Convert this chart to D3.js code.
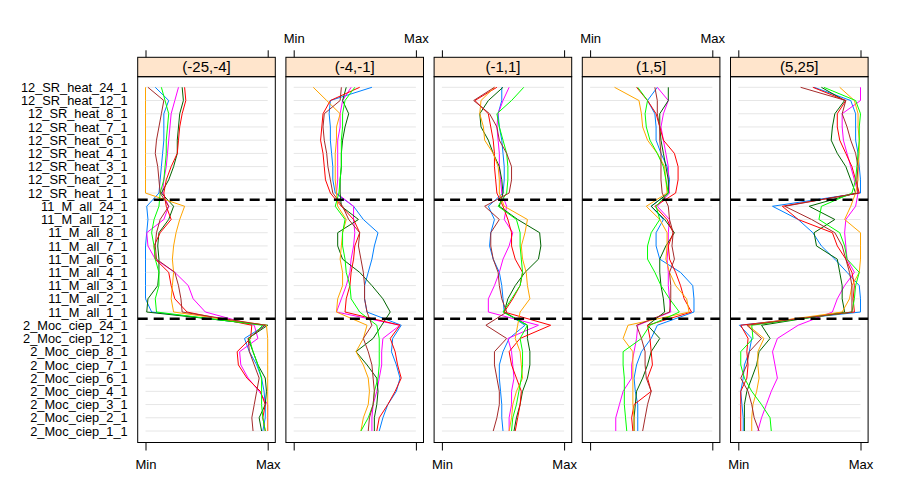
<!DOCTYPE html>
<html><head><meta charset="utf-8">
<script src="https://cdn.jsdelivr.net/npm/d3@7"></script>
<style>body{margin:0;background:#fff}svg{display:block}text{font-family:"Liberation Sans",Arial,sans-serif;fill:#000}</style>
</head><body>
<svg id="c" width="900" height="500"></svg>
<script>
// Variables (rows) from top to bottom
const rows = ["12_SR_heat_24_1","12_SR_heat_12_1","12_SR_heat_8_1","12_SR_heat_7_1","12_SR_heat_6_1","12_SR_heat_4_1","12_SR_heat_3_1","12_SR_heat_2_1","12_SR_heat_1_1",
"11_M_all_24_1","11_M_all_12_1","11_M_all_8_1","11_M_all_7_1","11_M_all_6_1","11_M_all_4_1","11_M_all_3_1","11_M_all_2_1","11_M_all_1_1",
"2_Moc_ciep_24_1","2_Moc_ciep_12_1","2_Moc_ciep_8_1","2_Moc_ciep_7_1","2_Moc_ciep_6_1","2_Moc_ciep_4_1","2_Moc_ciep_3_1","2_Moc_ciep_2_1","2_Moc_ciep_1_1"];
const panelTitles = ["(-25,-4]","(-4,-1]","(-1,1]","(1,5]","(5,25]"];
const seriesColors = ["#0080ff","#ff00ff","#006400","#ff0000","#ffa500","#00ff00","#a52a2a"];
const scaleTicks = ["Min","Max"];
const groupBreaks = [8, 17]; // dashed line after these row indices

// values: 0 = Min, 100 = Max ; order of series: blue, magenta, darkgreen, red, orange, green, brown
const panel1 = [
 [8,19,15,15,15,14,13,12,11, 1,2,1,0,0,0,0,0,5, 98,81,85,91,95,97,98,98,96],
 [27,24,21,20,19,18,17,15,14, 19,15,1,2,8,24,35,39,49, 89,92,77,78,84,93,100,100,100],
 [30,31,28,27,26,26,23,19,13, 23,19,11,10,11,11,10,2,1, 100,84,88,92,98,99,98,93,95],
 [32,33,30,28,27,26,21,17,15, 17,21,12,7,8,19,21,24,34, 87,86,75,76,83,94,98,96,98],
 [0,0,0,0,0,0,0,0,0, 32,28,25,23,22,23,22,21,23, 99,100,100,100,100,100,100,100,100],
 [13,16,19,18,17,17,16,15,12, 11,7,5,7,8,11,11,8,9, 96,85,88,92,95,95,95,96,98],
 [2,15,13,11,9,8,10,11,12, 19,12,9,8,9,24,27,29,30, 98,84,85,89,93,91,89,87,88]
];
const panel2 = [
 [64,30,29,30,30,31,32,32,34, 49,57,69,66,64,61,58,58,60, 88,81,80,84,87,84,77,73,70],
 [47,40,38,38,36,36,36,36,35, 49,49,50,49,47,46,43,39,35, 87,73,72,72,70,68,65,64,64],
 [43,40,45,42,40,39,39,38,38, 39,53,36,36,40,54,64,73,79, 72,65,51,60,68,69,68,66,66],
 [54,30,24,23,22,24,25,26,30, 39,49,54,50,49,47,46,43,42, 87,79,83,85,88,83,77,70,68],
 [16,27,38,35,35,34,34,34,35, 36,43,40,39,38,40,40,36,35, 60,57,51,57,61,62,61,57,55],
 [50,42,40,40,39,39,39,38,37, 34,42,40,40,42,43,46,47,54, 68,70,70,70,69,66,65,61,55],
 [39,38,25,24,25,27,28,30,32, 40,45,54,53,55,57,58,58,60, 64,57,61,64,65,66,65,62,61]
];
const panel3 = [
 [49,49,46,47,49,50,51,51,50, 38,43,40,39,42,47,49,50,51, 68,55,50,47,47,48,49,49,50],
 [55,50,46,45,46,47,47,48,49, 53,51,58,55,50,47,43,38,38, 79,54,57,58,59,57,57,55,55],
 [50,38,31,32,38,42,47,49,50, 47,62,80,81,79,68,60,54,51, 70,70,72,72,70,66,64,61,59],
 [45,27,38,40,42,43,43,44,45, 50,54,57,57,60,66,64,58,51, 89,64,55,57,61,65,64,62,60],
 [43,32,31,34,35,42,46,47,47, 51,70,68,65,66,69,70,72,64, 62,60,64,65,66,61,58,57,55],
 [67,57,45,47,50,53,54,54,53, 46,61,64,64,65,66,64,57,50, 70,64,66,66,65,63,61,58,57],
 [43,26,39,45,47,53,57,57,55, 35,47,40,40,42,46,47,49,53, 36,53,43,43,45,47,47,45,42]
];
const panel4 = [
 [55,47,53,54,54,58,63,65,64, 50,60,54,54,57,74,84,85,85, 55,50,42,38,36,37,39,39,39],
 [55,64,60,58,60,62,64,64,65, 55,65,64,64,63,64,64,65,66, 39,38,36,34,34,27,24,21,21],
 [64,64,57,57,58,60,62,64,64, 50,61,69,62,57,57,58,60,61, 47,57,50,47,43,38,37,36,36],
 [38,47,54,57,60,69,72,72,70, 53,63,68,64,65,70,74,77,83, 47,49,50,51,47,50,36,34,35],
 [20,40,42,43,47,55,61,62,63, 46,57,63,63,62,65,70,79,81, 31,27,35,35,35,35,35,36,36],
 [39,47,45,46,49,55,60,62,64, 54,57,50,47,47,53,58,65,73, 49,42,27,27,28,28,28,29,30],
 [53,55,55,57,57,58,58,58,59, 64,65,68,67,69,65,66,66,65, 38,42,45,45,46,50,47,45,43]
];
const panel5 = [
 [62,92,96,96,96,98,99,100,100, 28,49,61,68,79,89,99,100,100, 1,11,9,5,4,2,3,4,4],
 [100,100,85,85,86,89,92,95,98, 96,88,87,88,89,95,87,81,77, 49,32,28,30,32,27,23,19,16],
 [68,87,79,77,76,81,88,92,96, 58,79,62,64,81,83,85,85,87, 19,26,17,15,11,7,5,5,5],
 [61,88,81,81,83,88,93,96,99, 36,49,77,81,88,93,95,94,95, 2,8,7,8,7,2,2,2,2],
 [83,95,98,98,99,99,98,98,96, 92,87,100,100,100,99,93,91,85, 8,21,16,16,17,15,12,11,11],
 [70,96,100,99,99,98,97,96,93, 68,66,83,87,89,99,96,95,93, 11,12,2,2,5,11,19,26,27],
 [51,88,85,89,92,96,98,97,98, 38,60,79,85,88,91,93,93,93, 7,19,9,7,2,8,11,13,17]
];
const panelData = [panel1, panel2, panel3, panel4, panel5];

const svg = d3.select("#c");
const panelLeft0 = 137.7, panelPitch = 148.2, panelW = 137.6;
const stripTop = 57.3, stripBottom = 76.7, panelBottom = 442.5;
const FONT = '"Liberation Sans",Arial,sans-serif';

const y = d3.scalePoint().domain(rows).range([87.3, 431]);

// Y axis labels
const yAxis = d3.axisLeft(y).tickSize(0).tickPadding(10);
const ya = svg.append("g").attr("transform", `translate(${panelLeft0},0)`).call(yAxis);
ya.select(".domain").remove();
ya.selectAll("text").attr("font-size", 12.8).style("font-family", FONT).attr("fill", "#000");

panelTitles.forEach((title, i) => {
  const left = panelLeft0 + panelPitch * i;
  const x = d3.scaleLinear().domain([0, 100]).range([left + 7.8, left + 130]);
  const g = svg.append("g");

  // strip
  g.append("rect").attr("x", left).attr("y", stripTop).attr("width", panelW).attr("height", stripBottom - stripTop)
    .attr("fill", "#ffe5cc").attr("stroke", "#000").attr("stroke-width", 1);
  g.append("text").attr("x", left + panelW / 2).attr("y", (stripTop + stripBottom) / 2).attr("dy", "0.36em")
    .attr("text-anchor", "middle").attr("font-size", 15).text(title);

  // grid lines
  g.selectAll("line.grid").data(rows).join("line").attr("class", "grid")
    .attr("x1", x(0)).attr("x2", x(100)).attr("y1", d => y(d)).attr("y2", d => y(d))
    .attr("stroke", "#e6e6e6").attr("stroke-width", 1);

  // series
  const line = d3.line().x(d => x(d[0])).y(d => y(d[1]));
  panelData[i].forEach((vals, s) => {
    g.append("path").datum(vals.map((v, k) => [v, rows[k]]))
      .attr("d", line).attr("fill", "none").attr("stroke", seriesColors[s]).attr("stroke-width", 1);
  });

  // dashed separators
  groupBreaks.forEach(k => {
    const yy = (y(rows[k]) + y(rows[k + 1])) / 2;
    g.append("line").attr("x1", left).attr("x2", left + panelW).attr("y1", yy).attr("y2", yy)
      .attr("stroke", "#000").attr("stroke-width", 2.5).attr("stroke-dasharray", "10,6");
  });

  // panel border
  g.append("rect").attr("x", left).attr("y", stripBottom).attr("width", panelW).attr("height", panelBottom - stripBottom)
    .attr("fill", "none").attr("stroke", "#000").attr("stroke-width", 1);

  // bottom axis
  const bAxis = d3.axisBottom(x).tickValues([0, 100]).tickSize(8).tickPadding(9)
    .tickFormat((d, j) => (i % 2 === 0 ? scaleTicks[j] : ""));
  const ba = g.append("g").attr("transform", `translate(0,${panelBottom})`).call(bAxis);
  ba.select(".domain").remove();
  ba.selectAll("line").attr("stroke", "#000");
  ba.selectAll("text").attr("font-size", 13).style("font-family", FONT).attr("fill", "#000");

  // top axis
  const tAxis = d3.axisTop(x).tickValues([0, 100]).tickSize(7).tickPadding(7)
    .tickFormat((d, j) => (i % 2 === 1 ? scaleTicks[j] : ""));
  const ta = g.append("g").attr("transform", `translate(0,${stripTop})`).call(tAxis);
  ta.select(".domain").remove();
  ta.selectAll("line").attr("stroke", "#000");
  ta.selectAll("text").attr("font-size", 13).style("font-family", FONT).attr("fill", "#000");
});
</script>
</body></html>
